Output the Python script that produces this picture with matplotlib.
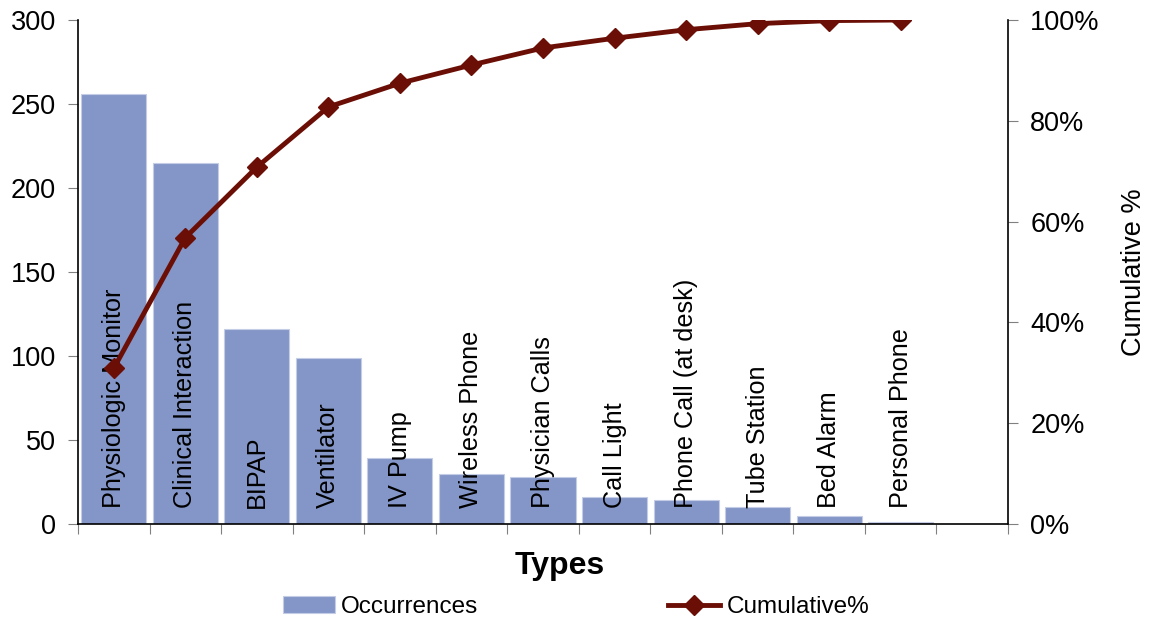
import numpy as np
import matplotlib
matplotlib.use("Agg")
import matplotlib.pyplot as plt
from matplotlib.ticker import FuncFormatter

plt.rcParams["font.family"] = ["Liberation Sans", "DejaVu Sans"]

# Data
types = ["Physiologic Monitor", "Clinical Interaction", "BIPAP", "Ventilator",
         "IV Pump", "Wireless Phone", "Physician Calls", "Call Light",
         "Phone Call (at desk)", "Tube Station", "Bed Alarm", "Personal Phone"]
occurrences = [256, 215, 116, 99, 39, 30, 28, 16, 14, 10, 5, 1]
cumulative = np.cumsum(occurrences) / np.sum(occurrences) * 100

bar_color = "#8496C8"
line_color = "#6B0F06"

fig = plt.figure(figsize=(11.52, 6.21), dpi=100)
ax = fig.add_axes([78 / 1152, 1 - 524 / 621, 930 / 1152, 504 / 621])

x = np.arange(len(types))
ax.bar(x, occurrences, width=0.91, color=bar_color, edgecolor="#C5CDE6",
       linewidth=0.8, label="Occurrences", zorder=2)

for xi, name in zip(x, types):
    ax.text(xi, 9.5, name, rotation=90, ha="center", va="bottom",
            fontsize=18.2, zorder=3)

ax.set_xlim(-0.5, len(types) + 0.5)
ax.set_ylim(0, 300)
ax.set_yticks(range(0, 301, 50))
ax.set_xticks(np.arange(-0.5, len(types) + 1, 1))
ax.set_xticklabels([])
ax.tick_params(axis="x", length=7, direction="out", color="#808080")
ax.tick_params(axis="y", length=7, direction="out", labelsize=19.5,
               color="#808080", pad=9)
ax.spines["top"].set_visible(False)
ax.spines["right"].set_visible(False)
ax.spines["left"].set_linewidth(1.2)
ax.spines["bottom"].set_linewidth(1.2)
ax.set_xlabel("Types", fontsize=23, fontweight="bold")
ax.xaxis.set_label_coords((560 - 78) / 930, -0.054)

ax2 = ax.twinx()
ax2.plot(x, cumulative, color=line_color, linewidth=3.5, marker="D",
         markersize=10, label="Cumulative%", zorder=4)
ax2.set_ylim(0, 100)
ax2.set_yticks(range(0, 101, 20))
ax2.yaxis.set_major_formatter(FuncFormatter(lambda v, p: f"{v:.0f}%"))
ax2.tick_params(axis="y", length=7, direction="out", labelsize=19.5,
                color="#808080", pad=9)
ax2.spines["top"].set_visible(False)
ax2.spines["left"].set_visible(False)
ax2.spines["bottom"].set_visible(False)
ax2.spines["right"].set_linewidth(1.2)
ax2.set_ylabel("Cumulative %", fontsize=19.5, labelpad=15)

h1, l1 = ax.get_legend_handles_labels()
h2, l2 = ax2.get_legend_handles_labels()
fig.legend(h1 + h2, l1 + l2, loc="center left",
           bbox_to_anchor=(261 / 1152, 1 - 607 / 621),
           ncol=2, frameon=False, fontsize=17.5, columnspacing=7.8,
           handlelength=2.15, handletextpad=0.25)

fig.savefig("out.png", dpi=100)
